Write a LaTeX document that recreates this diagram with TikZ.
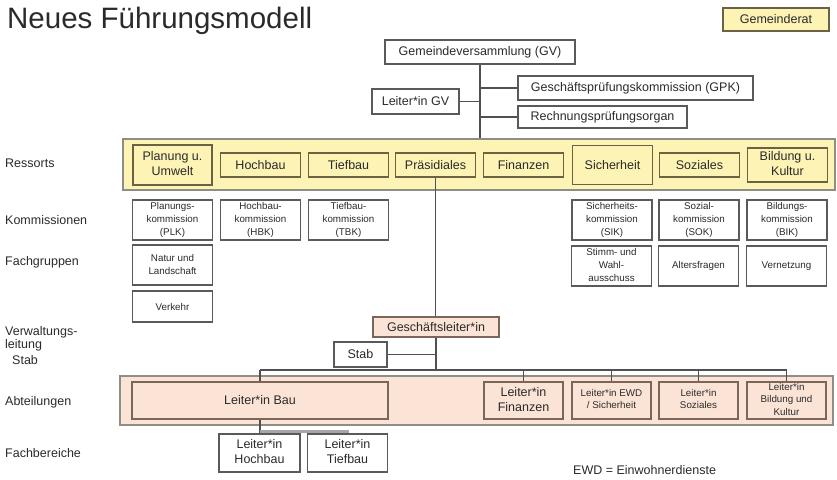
\documentclass[tikz,border=0pt]{standalone}
\usepackage{fontspec}
\setmainfont{Liberation Sans}
\usepackage{tikz}

\definecolor{gelb}{HTML}{FCF3B4}
\definecolor{rosa}{HTML}{FBE4D6}
\definecolor{ressortline}{HTML}{6B6244}
\definecolor{abtline}{HTML}{7A665B}
\definecolor{bandline}{HTML}{8E8E86}
\definecolor{boxline}{HTML}{5A5A5A}
\definecolor{wiregray}{HTML}{505050}
\definecolor{textgray}{HTML}{2A2A2A}

\begin{document}
\begin{tikzpicture}[x=1pt, y=-1pt]
	\tikzstyle{block} = [draw=boxline, rectangle, line width=1.3pt, inner sep=0pt, text=textgray, font=\fontsize{12.5}{15}\selectfont]
	\tikzstyle{ressort} = [block, draw=ressortline, fill=gelb, line width=1.7pt, minimum width=80pt, minimum height=24pt]
	\tikzstyle{kom} = [block, font=\fontsize{9.8}{13}\selectfont, minimum width=80pt, minimum height=40pt]
	\tikzstyle{abt} = [block, draw=abtline, fill=rosa, line width=1.7pt, minimum width=79pt, minimum height=37pt]
	\tikzstyle{bandbox} = [draw=bandline, line width=1.5pt, rectangle]
	\tikzstyle{wire} = [draw=wiregray, line width=1.5pt]
	\tikzstyle{rowlabel} = [anchor=west, inner sep=0pt, text=textgray, font=\fontsize{12.5}{13}\selectfont]

	\useasboundingbox (0,0) rectangle (837,479);

	\node[anchor=base west, inner sep=0pt, text=textgray, font=\fontsize{29.5}{34}\selectfont] (title) at (7,28) {Neues Führungsmodell};
	\node[block, fill=gelb, draw=ressortline, minimum width=106pt, minimum height=23pt] (gemeinderat) at (776,19.5) {Gemeinderat};

	% Gemeindeversammlung
	\node[block, minimum width=190pt, minimum height=24pt] (gv) at (480,52) {Gemeindeversammlung (GV)};
	\node[block, minimum width=87pt, minimum height=25pt] (leiter-gv) at (415.5,101.5) {Leiter*in GV};
	\node[block, minimum width=235pt, minimum height=24pt] (gpk) at (635.5,88) {Geschäftsprüfungskommission (GPK)};
	\node[block, minimum width=169pt, minimum height=22pt] (rpo) at (602.5,117) {Rechnungsprüfungsorgan};

	% Ressorts
	\node[bandbox, fill=gelb, minimum width=712pt, minimum height=51pt] (ressort-band) at (479,164.5) {};
	\node[ressort, minimum width=79pt, minimum height=40pt] (planung) at (172.5,165) {%
	  \begin{tabular}{c}
	    Planung u.\\
	    Umwelt
	  \end{tabular}
	};
	\node[ressort, right of=planung, node distance=88pt] (hochbau) {Hochbau};
	\node[ressort, right of=hochbau, node distance=88pt] (tiefbau) {Tiefbau};
	\node[ressort, right of=tiefbau, node distance=87pt] (praesidiales) {Präsidiales};
	\node[ressort, right of=praesidiales, node distance=88pt] (finanzen) {Finanzen};
	\node[ressort, right of=finanzen, node distance=89pt, minimum height=39pt] (sicherheit) {Sicherheit};
	\node[ressort, right of=sicherheit, node distance=87pt] (soziales) {Soziales};
	\node[ressort, right of=soziales, node distance=88pt, minimum height=34pt] (bildung) {%
	  \begin{tabular}{c}
	    Bildung u.\\
	    Kultur
	  \end{tabular}
	};

	% Kommissionen
	\node[kom] (plk) at (172.5,220) {%
	  \begin{tabular}{c}
	    Planungs-\\
	    kommission\\
	    (PLK)
	  \end{tabular}
	};
	\node[kom, right of=plk, node distance=88pt] (hbk) {%
	  \begin{tabular}{c}
	    Hochbau-\\
	    kommission\\
	    (HBK)
	  \end{tabular}
	};
	\node[kom, right of=hbk, node distance=88pt] (tbk) {%
	  \begin{tabular}{c}
	    Tiefbau-\\
	    kommission\\
	    (TBK)
	  \end{tabular}
	};
	\node[kom] (sik) at (612,220) {%
	  \begin{tabular}{c}
	    Sicherheits-\\
	    kommission\\
	    (SIK)
	  \end{tabular}
	};
	\node[kom, right of=sik, node distance=87pt] (sok) {%
	  \begin{tabular}{c}
	    Sozial-\\
	    kommission\\
	    (SOK)
	  \end{tabular}
	};
	\node[kom, right of=sok, node distance=88pt] (bik) {%
	  \begin{tabular}{c}
	    Bildungs-\\
	    kommission\\
	    (BIK)
	  \end{tabular}
	};

	% Fachgruppen
	\node[kom] (natur) at (172.5,265) {%
	  \begin{tabular}{c}
	    Natur und\\
	    Landschaft
	  \end{tabular}
	};
	\node[kom, minimum height=31pt] (verkehr) at (172.5,306.5) {Verkehr};
	\node[kom] (stimm) at (611.5,266) {%
	  \begin{tabular}{c}
	    Stimm- und\\
	    Wahl-\\
	    ausschuss
	  \end{tabular}
	};
	\node[kom, right of=stimm, node distance=87pt] (alter) {Altersfragen};
	\node[kom, right of=alter, node distance=88pt] (vernetzung) {Vernetzung};

	% Verwaltungsleitung und Stab
	\node[block, fill=rosa, draw=abtline, minimum width=126pt, minimum height=20pt] (gl) at (436,327) {Geschäftsleiter*in};
	\node[block, minimum width=53pt, minimum height=25pt] (stab) at (360.5,354.5) {Stab};
	\coordinate (abt-bus) at (436,370);

	% Abteilungen
	\node[bandbox, fill=rosa, minimum width=713pt, minimum height=49pt] (abt-band) at (476.5,400.5) {};
	\node[abt, minimum width=256pt] (bau) at (260,400.5) {Leiter*in Bau};
	\node[abt] (abt-fin) at (523.5,400.5) {%
	  \begin{tabular}{c}
	    Leiter*in\\
	    Finanzen
	  \end{tabular}
	};
	\node[abt, right of=abt-fin, node distance=88pt, font=\fontsize{9.8}{12}\selectfont] (abt-ewd) {%
	  \begin{tabular}{c}
	    Leiter*in EWD\\
	    / Sicherheit
	  \end{tabular}
	};
	\node[abt, right of=abt-ewd, node distance=87pt, font=\fontsize{9.8}{12}\selectfont] (abt-soz) {%
	  \begin{tabular}{c}
	    Leiter*in\\
	    Soziales
	  \end{tabular}
	};
	\node[abt, right of=abt-soz, node distance=88pt, font=\fontsize{9.8}{12.3}\selectfont] (abt-bik) {%
	  \begin{tabular}{c}
	    Leiter*in\\
	    Bildung und\\
	    Kultur
	  \end{tabular}
	};

	% Fachbereiche
	\node[block, minimum width=81pt, minimum height=38pt] (fb-hoch) at (259.5,453) {%
	  \begin{tabular}{c}
	    Leiter*in\\
	    Hochbau
	  \end{tabular}
	};
	\node[block, minimum width=80pt, minimum height=38pt, right of=fb-hoch, node distance=88pt] (fb-tief) {%
	  \begin{tabular}{c}
	    Leiter*in\\
	    Tiefbau
	  \end{tabular}
	};

	% Zeilenbeschriftung
	\node[rowlabel] (lbl-ressorts) at (5,163) {Ressorts};
	\node[rowlabel] (lbl-kom) at (5,220) {Kommissionen};
	\node[rowlabel] (lbl-fg) at (5,262) {Fachgruppen};
	\node[rowlabel] (lbl-vl) at (5,339) {%
	  \begin{tabular}{@{}l@{}}
	    Verwaltungs-\\
	    leitung
	  \end{tabular}
	};
	\node[rowlabel] (lbl-stab) at (12,360) {Stab};
	\node[rowlabel] (lbl-abt) at (5,402) {Abteilungen};
	\node[rowlabel] (lbl-fb) at (5,453) {Fachbereiche};
	\node[rowlabel] (ewd-note) at (573,470) {EWD = Einwohnerdienste};

	% Verbindungen
	\draw[wire] (gv) -- (gv |- ressort-band.north);
	\draw[wire] (leiter-gv) -- (leiter-gv -| gv);
	\draw[wire] (gpk) -- (gpk -| gv);
	\draw[wire] (rpo) -- (rpo -| gv);
	\draw[wire] (praesidiales.south) -- (praesidiales.south |- gl.north);
	\draw[wire] (stab) -- (stab -| gl);
	\draw[wire] (gl) -- (abt-bus);
	\draw[wire] (bau.north |- abt-bus) -- (abt-bik.north |- abt-bus);
	\foreach \abt in {bau, abt-fin, abt-ewd, abt-soz, abt-bik}
	  \draw[wire] (\abt.north |- abt-bus) -- (\abt.north);
	\draw[wire] (bau.south) -- (bau.south |- fb-hoch.north);
	\draw[draw=gray!70, line width=2.5pt] (bau.south |- fb-hoch.north) ++(0,-2) -| (fb-tief.north);
\end{tikzpicture}
\end{document}
